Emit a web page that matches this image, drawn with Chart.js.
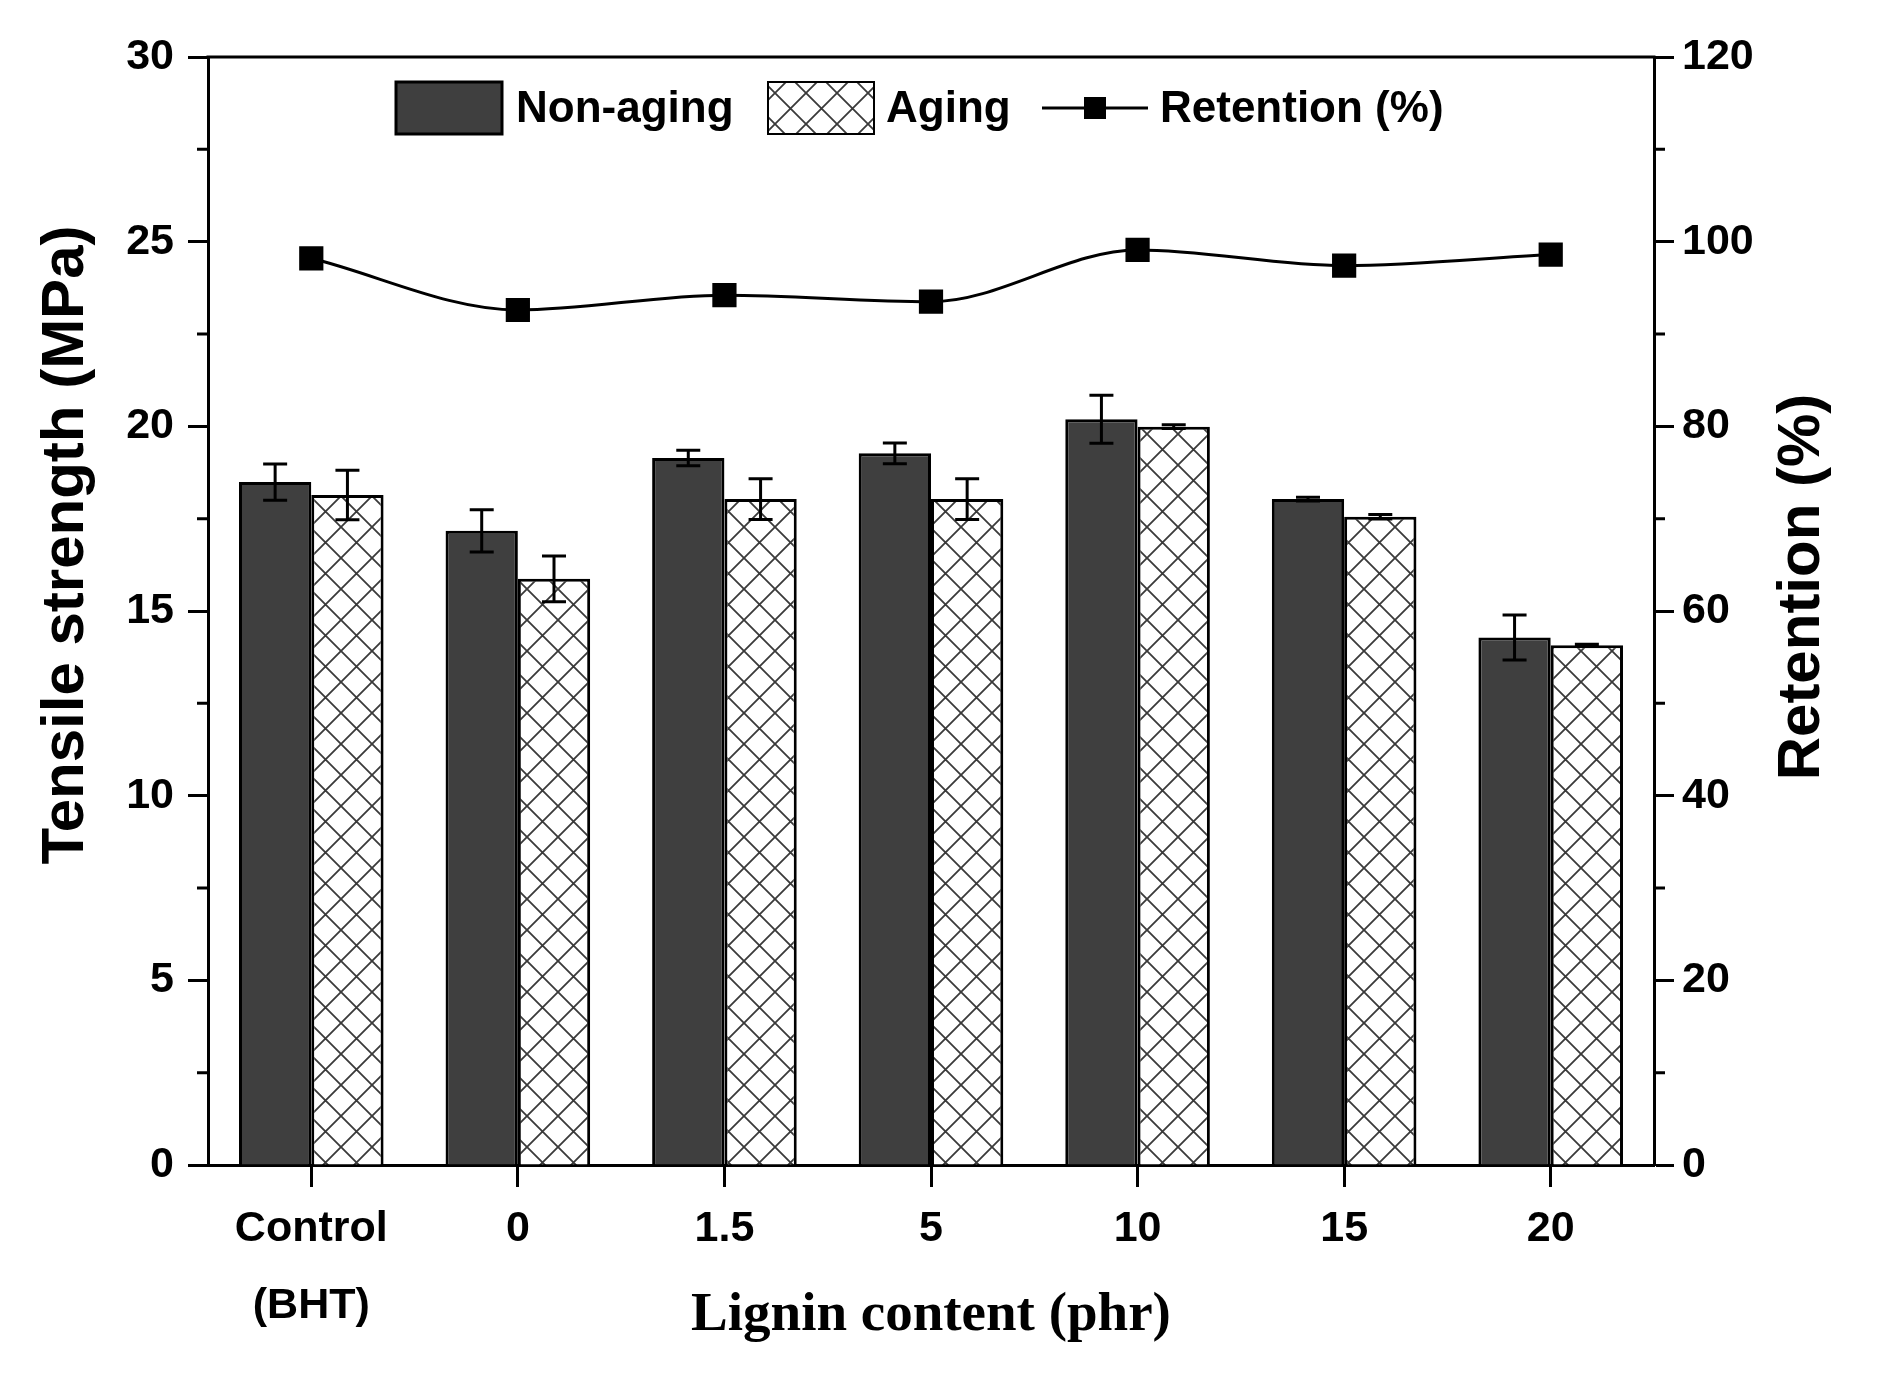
<!DOCTYPE html>
<html>
<head>
<meta charset="utf-8">
<title>Tensile strength and retention</title>
<script src="https://cdn.jsdelivr.net/npm/chart.js@4.4.1/dist/chart.umd.min.js"></script>
<style>
  html, body { margin: 0; padding: 0; background: #fff; }
  #wrap { width: 1881px; height: 1389px; }
</style>
</head>
<body>
<div id="wrap"><canvas id="chart" width="1881" height="1389"></canvas></div>
<script>
// data
const categories = [['Control', '(BHT)'], '0', '1.5', '5', '10', '15', '20'];
const nonAging = [18.49, 17.17, 19.14, 19.27, 20.19, 18.03, 14.28];
const nonAgingErr = [0.49, 0.57, 0.21, 0.28, 0.65, 0.05, 0.61];
const aging = [18.14, 15.87, 18.03, 18.03, 19.99, 17.55, 14.07];
const agingErr = [0.67, 0.62, 0.55, 0.55, 0.05, 0.06, 0.03];
const retention = [98.2, 92.6, 94.2, 93.5, 99.1, 97.4, 98.6];

const DARK = '#3f3f3f';
const FONT = 'Liberation Sans, Arial, sans-serif';

// cross hatch used by the aging bars
function makeHatch() {
    const c = document.createElement('canvas');
    const s = 31;
    c.width = s; c.height = s;
    const g = c.getContext('2d');
    g.fillStyle = '#fff';
    g.fillRect(0, 0, s, s);
    g.strokeStyle = '#3a3a3a';
    g.lineWidth = 1.8;
    g.beginPath();
    g.moveTo(0, 0); g.lineTo(s, s);
    g.moveTo(s, 0); g.lineTo(0, s);
    g.stroke();
    return c;
}

const ctx = document.getElementById('chart').getContext('2d');
const hatch = ctx.createPattern(makeHatch(), 'repeat');

// error bars, minor ticks, top frame, axis titles and the legend
const extras = {
    id: 'extras',
    afterDatasetsDraw(chart) {
        const c = chart.ctx;
        const y = chart.scales.y;
        const errs = [nonAgingErr, agingErr];
        c.save();
        c.strokeStyle = '#000';
        c.lineWidth = 3;
        [0, 1].forEach(di => {
            const meta = chart.getDatasetMeta(di);
            const vals = chart.data.datasets[di].data;
            meta.data.forEach((bar, i) => {
                const top = y.getPixelForValue(vals[i] + errs[di][i]);
                const bot = y.getPixelForValue(vals[i] - errs[di][i]);
                c.beginPath();
                c.moveTo(bar.x, top); c.lineTo(bar.x, bot);
                c.moveTo(bar.x - 12, top); c.lineTo(bar.x + 12, top);
                c.moveTo(bar.x - 12, bot); c.lineTo(bar.x + 12, bot);
                c.stroke();
            });
        });
        c.restore();
    },
    afterDraw(chart) {
        const c = chart.ctx;
        const a = chart.chartArea;
        c.save();
        c.strokeStyle = '#000';
        c.lineWidth = 3;
        // top frame
        c.beginPath();
        c.moveTo(a.left - 1.5, a.top); c.lineTo(a.right + 1.5, a.top);
        c.stroke();
        // minor ticks
        const yl = chart.scales.y, yr = chart.scales.y1;
        c.beginPath();
        yl.ticks.forEach(t => {
            if (t.value % 5 !== 0) {
                const p = yl.getPixelForValue(t.value);
                c.moveTo(a.left, p); c.lineTo(a.left - 11, p);
            }
        });
        yr.ticks.forEach(t => {
            if (t.value % 20 !== 0) {
                const p = yr.getPixelForValue(t.value);
                c.moveTo(a.right, p); c.lineTo(a.right + 11, p);
            }
        });
        c.stroke();

        // vertical axis titles, both reading bottom to top
        c.fillStyle = '#000';
        c.font = 'bold 60px ' + FONT;
        c.textAlign = 'center';
        c.textBaseline = 'middle';
        [['Tensile strength (MPa)', 66, 545], ['Retention (%)', 1802, 587]].forEach(([txt, tx, ty]) => {
            c.save();
            c.translate(tx, ty);
            c.rotate(-Math.PI / 2);
            c.fillText(txt, 0, 0);
            c.restore();
        });

        // legend
        const ly = 108;
        c.textAlign = 'left';
        c.font = 'bold 44px ' + FONT;
        c.fillStyle = DARK;
        c.fillRect(396, 82, 106, 52);
        c.strokeRect(396, 82, 106, 52);
        c.fillStyle = '#000';
        c.fillText('Non-aging', 516, ly + 2);
        c.fillStyle = hatch;
        c.fillRect(768, 82, 106, 52);
        c.lineWidth = 2;
        c.strokeRect(768, 82, 106, 52);
        c.fillStyle = '#000';
        c.fillText('Aging', 886, ly + 2);
        c.lineWidth = 3;
        c.beginPath();
        c.moveTo(1042, ly); c.lineTo(1148, ly);
        c.stroke();
        c.fillRect(1084, ly - 11, 22, 22);
        c.fillText('Retention (%)', 1160, ly + 2);
        c.restore();
    }
};

new Chart(ctx, {
    data: {
        labels: categories,
        datasets: [
            {
                type: 'bar',
                label: 'Non-aging',
                data: nonAging,
                backgroundColor: DARK,
                borderColor: '#000',
                borderWidth: 3,
                categoryPercentage: 0.7,
                barPercentage: 1.0,
                yAxisID: 'y',
                order: 2
            },
            {
                type: 'bar',
                label: 'Aging',
                data: aging,
                backgroundColor: hatch,
                borderColor: '#000',
                borderWidth: 3,
                categoryPercentage: 0.7,
                barPercentage: 1.0,
                yAxisID: 'y',
                order: 2
            },
            {
                type: 'line',
                label: 'Retention (%)',
                data: retention,
                borderColor: '#000',
                backgroundColor: '#000',
                borderWidth: 3,
                cubicInterpolationMode: 'monotone',
                pointStyle: 'rect',
                pointRadius: 15,
                pointHoverRadius: 15,
                yAxisID: 'y1',
                order: 1
            }
        ]
    },
    options: {
        responsive: false,
        animation: false,
        layout: { padding: { top: 57, left: 0, right: 0, bottom: 0 } },
        plugins: {
            legend: { display: false },
            tooltip: { enabled: false }
        },
        scales: {
            x: {
                offset: true,
                grid: {
                    offset: false,
                    drawOnChartArea: false,
                    tickLength: 22,
                    tickWidth: 3,
                    tickColor: '#000'
                },
                border: { color: '#000', width: 3 },
                ticks: {
                    color: '#000',
                    padding: 3,
                    maxRotation: 0,
                    font: { family: FONT, size: 43, weight: 'bold', lineHeight: 1.8 }
                },
                title: {
                    display: true,
                    text: 'Lignin content (phr)',
                    color: '#000',
                    padding: { top: 0, bottom: 40 },
                    font: { family: 'Liberation Serif, Times New Roman, serif', size: 55, weight: 'bold' }
                },
                afterFit(s) { s.height = 224; }
            },
            y: {
                position: 'left',
                min: 0,
                max: 30,
                grid: {
                    drawOnChartArea: false,
                    tickLength: 20,
                    tickWidth: 3,
                    tickColor: c => (c.tick && c.tick.value % 5 === 0) ? '#000' : 'rgba(0,0,0,0)'
                },
                border: { color: '#000', width: 3 },
                ticks: {
                    stepSize: 2.5,
                    autoSkip: false,
                    color: '#000',
                    padding: 14,
                    font: { family: FONT, size: 43, weight: 'bold' },
                    callback: v => (v % 5 === 0 ? v : '')
                },
                afterFit(s) { s.width = 208; }
            },
            y1: {
                position: 'right',
                min: 0,
                max: 120,
                grid: {
                    drawOnChartArea: false,
                    tickLength: 20,
                    tickWidth: 3,
                    tickColor: c => (c.tick && c.tick.value % 20 === 0) ? '#000' : 'rgba(0,0,0,0)'
                },
                border: { color: '#000', width: 3 },
                ticks: {
                    stepSize: 10,
                    autoSkip: false,
                    color: '#000',
                    padding: 8,
                    font: { family: FONT, size: 43, weight: 'bold' },
                    callback: v => (v % 20 === 0 ? v : '')
                },
                afterFit(s) { s.width = 227; }
            }
        }
    },
    plugins: [extras]
});
</script>
</body>
</html>
